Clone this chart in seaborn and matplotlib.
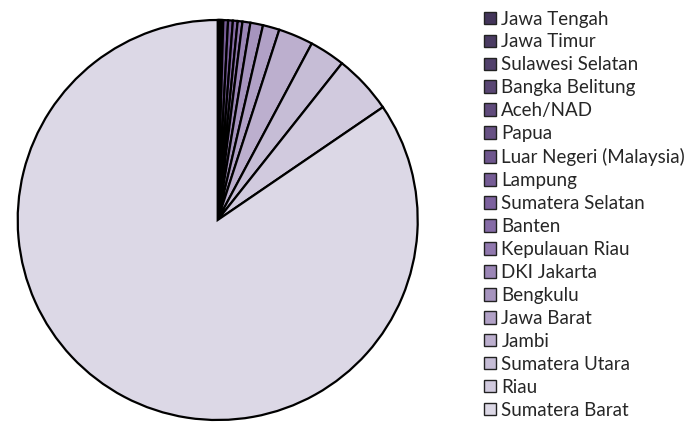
import matplotlib
matplotlib.use("Agg")
import matplotlib.pyplot as plt
import seaborn as sns

# share of respondents by province of origin
provinces = [
    "Jawa Tengah", "Jawa Timur", "Sulawesi Selatan", "Bangka Belitung",
    "Aceh/NAD", "Papua", "Luar Negeri (Malaysia)", "Lampung",
    "Sumatera Selatan", "Banten", "Kepulauan Riau", "DKI Jakarta",
    "Bengkulu", "Jawa Barat", "Jambi", "Sumatera Utara", "Riau",
    "Sumatera Barat",
]
counts = [1, 1, 1, 1, 1, 1, 1, 6, 6, 6, 6, 10, 16, 21, 44, 45, 75, 1323]

sns.set_style("white")
colors = sns.blend_palette(["#43355a", "#8064a2", "#dcd8e6"], len(provinces))

fig = plt.figure(figsize=(6.93, 4.23), dpi=100)
ax = fig.add_axes([(217.7 - 202) / 693, (423 - 220 - 202) / 423, 404 / 693, 404 / 423])

wedges, _ = ax.pie(counts, colors=colors, startangle=90, counterclock=False,
                   wedgeprops=dict(edgecolor="black", linewidth=1.6))
ax.set_xlim(-1.01, 1.01)
ax.set_ylim(-1.01, 1.01)
ax.set_aspect("equal")
ax.axis("off")

leg = fig.legend(wedges, provinces, loc="upper left",
                 bbox_to_anchor=(476 / 693, 1 - 3 / 423),
                 frameon=False, prop={"family": "Lato", "size": 13.5},
                 handlelength=0.65, handleheight=0.65, handletextpad=0.3,
                 labelspacing=0.317, borderaxespad=0)
for h in leg.legend_handles:
    h.set_linewidth(1.0)
    h.set_edgecolor("#222222")

fig.savefig("out.png", dpi=100)
